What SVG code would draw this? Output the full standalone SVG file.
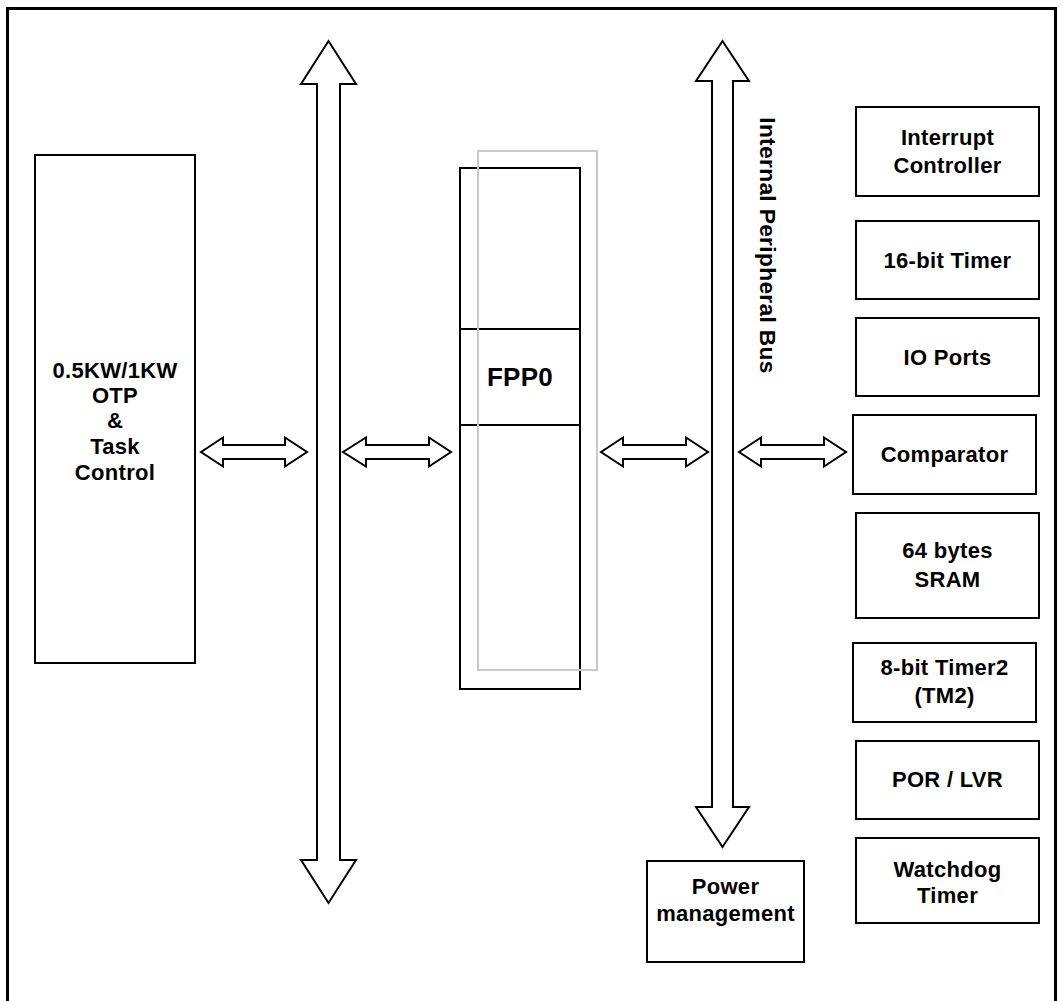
<svg xmlns="http://www.w3.org/2000/svg" width="1063" height="1001" viewBox="0 0 1063 1001">
<style>
.box{fill:#fff;stroke:#000;stroke-width:2}
.arr{fill:#fff;stroke:#000;stroke-width:2;stroke-linejoin:miter}
.t{font-family:"Liberation Sans",Arial,sans-serif;font-weight:bold;font-size:22px;letter-spacing:0.3px;fill:#000;text-anchor:middle}
</style>
<rect x="0" y="0" width="1063" height="1001" fill="#fff"/>
<rect id="frame" x="7.5" y="8.5" width="1048" height="1020" fill="none" stroke="#000" stroke-width="3"/>
<g id="connectors">
<polygon class="arr" points="328.5,41 356,84 340,84 340,860 356,860 328.5,903 301,860 317,860 317,84 301,84"/>
<polygon class="arr" points="722.5,41 749,81 733,81 733,807 749,807 722.5,847 696,807 712,807 712,81 696,81"/>
<polygon class="arr" points="201,452 223,437.5 223,445 285,445 285,437.5 307,452 285,466.5 285,459 223,459 223,466.5"/>
<polygon class="arr" points="343,452 366,437.5 366,445 429,445 429,437.5 451,452 429,466.5 429,459 366,459 366,466.5"/>
<polygon class="arr" points="601,452 623,437.5 623,445 686,445 686,437.5 708,452 686,466.5 686,459 623,459 623,466.5"/>
<polygon class="arr" points="739,452 761,437.5 761,445 824,445 824,437.5 846,452 824,466.5 824,459 761,459 761,466.5"/>
<text class="t" transform="translate(760,245.5) rotate(90)" style="font-size:22.8px">Internal Peripheral Bus</text>
</g>
<g id="otp">
<rect class="box" x="35" y="155" width="160" height="508"/>
<text class="t"><tspan x="115" y="378">0.5KW/1KW</tspan><tspan x="115" y="403">OTP</tspan><tspan x="115" y="428">&amp;</tspan><tspan x="115" y="454">Task</tspan><tspan x="115" y="480">Control</tspan></text>
</g>
<g id="fpp0">
<rect class="box" x="460" y="168" width="120" height="521"/>
<line x1="460" y1="329" x2="580" y2="329" stroke="#000" stroke-width="2"/>
<line x1="460" y1="425" x2="580" y2="425" stroke="#000" stroke-width="2"/>
<rect x="478" y="151" width="119" height="519" fill="none" stroke="#c8c8c8" stroke-width="2"/>
<text class="t" x="520" y="386" style="font-size:26px">FPP0</text>
</g>
<g id="power">
<rect class="box" x="647" y="861" width="157" height="101"/>
<text class="t"><tspan x="725.5" y="894">Power</tspan><tspan x="725.5" y="921">management</tspan></text>
</g>
<g id="interrupt">
<rect class="box" x="856" y="107" width="183" height="89"/>
<text class="t"><tspan x="947.5" y="145">Interrupt</tspan><tspan x="947.5" y="173">Controller</tspan></text>
</g>
<g id="timer16">
<rect class="box" x="856" y="221" width="183" height="78"/>
<text class="t" x="947.5" y="268">16-bit Timer</text>
</g>
<g id="io">
<rect class="box" x="856" y="318" width="183" height="78"/>
<text class="t" x="947.5" y="365">IO Ports</text>
</g>
<g id="comparator">
<rect class="box" x="853" y="415" width="183" height="79"/>
<text class="t" x="944.5" y="462">Comparator</text>
</g>
<g id="sram">
<rect class="box" x="856" y="513" width="183" height="105"/>
<text class="t"><tspan x="947.5" y="558">64 bytes</tspan><tspan x="947.5" y="587">SRAM</tspan></text>
</g>
<g id="timer2">
<rect class="box" x="853" y="643" width="183" height="79"/>
<text class="t"><tspan x="944.5" y="675">8-bit Timer2</tspan><tspan x="944.5" y="703">(TM2)</tspan></text>
</g>
<g id="porlvr">
<rect class="box" x="856" y="741" width="183" height="78"/>
<text class="t" x="947.5" y="787">POR / LVR</text>
</g>
<g id="watchdog">
<rect class="box" x="856" y="838" width="183" height="85"/>
<text class="t"><tspan x="947.5" y="877">Watchdog</tspan><tspan x="947.5" y="903">Timer</tspan></text>
</g>
</svg>
